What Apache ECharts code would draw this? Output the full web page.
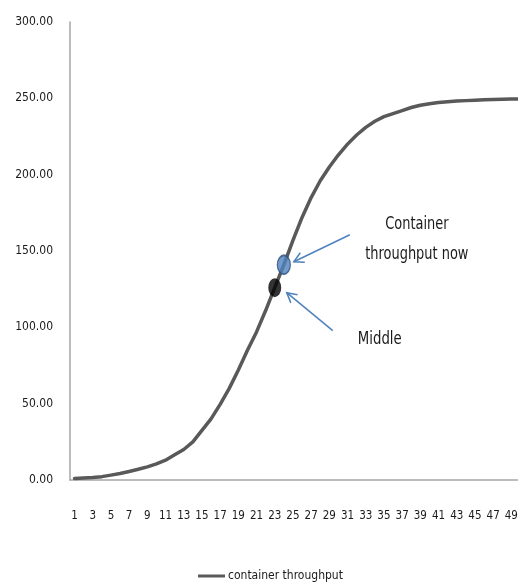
<!DOCTYPE html>
<html>
<head>
<meta charset="utf-8">
<script src="https://cdn.jsdelivr.net/npm/echarts@6/dist/echarts.min.js"></script>
<style>
  html, body { margin: 0; padding: 0; background: #ffffff; }
  #chart { width: 518px; height: 582px; }
</style>
</head>
<body>
<div id="chart"></div>
<script>
// Period labels along the x axis
const categories = [
  '1','2','3','4','5','6','7','8','9','10',
  '11','12','13','14','15','16','17','18','19','20',
  '21','22','23','24','25','26','27','28','29','30',
  '31','32','33','34','35','36','37','38','39','40',
  '41','42','43','44','45','46','47','48','49','50'
];

// Container throughput per period (S-shaped growth towards saturation)
const throughput = [
  1.0, 1.3, 1.6, 2.2, 3.2, 4.3, 5.6, 7.0, 8.6, 10.6,
  13.0, 16.5, 20.0, 25.0, 32.5, 40.0, 49.5, 60.0, 72.0, 85.0,
  97.0, 111.0, 126.0, 141.0, 157.0, 172.0, 185.0, 196.0, 205.0, 213.0,
  220.0, 226.0, 231.0, 235.0, 238.0, 240.0, 242.0, 244.0, 245.5, 246.5,
  247.3, 247.8, 248.2, 248.5, 248.8, 249.0, 249.2, 249.4, 249.5, 249.6
];

const seriesName = 'container throughput';
const middleIndex = 22;   // period 23: midpoint of the curve
const nowIndex = 23;      // period 24: current throughput
const middleLabel = 'Middle';
const nowLabel = 'Container\nthroughput now';

const FONT = "'Liberation Sans Narrow', 'DejaVu Sans Condensed', 'Liberation Sans', sans-serif";
const ARROW_COLOR = '#4f81bd';
const TEXT_COLOR = '#1a1a1a';

const chart = echarts.init(document.getElementById('chart'), null, { renderer: 'canvas' });

chart.setOption({
  animation: false,
  backgroundColor: '#ffffff',
  // the plot runs a little past the right edge of the canvas
  grid: { left: 70, top: 22, right: -7, bottom: 102, containLabel: false, outerBoundsMode: 'none' },
  legend: {
    data: [{ name: seriesName, icon: 'rect' }],
    left: 198,
    top: 570,
    padding: 0,
    itemWidth: 27,
    itemHeight: 3,
    textStyle: { fontFamily: FONT, fontSize: 12, color: TEXT_COLOR, padding: [0, 0, 0, -2] }
  },
  xAxis: {
    type: 'category',
    data: categories,
    boundaryGap: true,
    axisLine: { show: true, lineStyle: { color: '#a6a6a6', width: 1.5 } },
    axisTick: { show: false },
    splitLine: { show: false },
    axisLabel: {
      interval: 1,
      margin: 30,
      fontFamily: FONT,
      fontSize: 11.5,
      color: TEXT_COLOR
    }
  },
  yAxis: {
    type: 'value',
    min: 0,
    max: 300,
    interval: 50,
    axisLine: { show: true, lineStyle: { color: '#a6a6a6', width: 1.5 } },
    axisTick: { show: false },
    splitLine: { show: false },
    axisLabel: {
      margin: 17,
      fontFamily: FONT,
      fontSize: 12,
      color: TEXT_COLOR,
      padding: [3, 0, 0, 0],
      formatter: v => v.toFixed(2)
    }
  },
  series: [
    {
      name: seriesName,
      type: 'line',
      data: throughput,
      showSymbol: false,
      symbol: 'none',
      smooth: false,
      lineStyle: { color: '#595959', width: 3.5, cap: 'round', join: 'round' },
      itemStyle: { color: '#595959' },
      z: 2
    },
    {
      name: middleLabel,
      type: 'scatter',
      data: [[middleIndex, throughput[middleIndex]]],
      symbol: 'circle',
      symbolSize: [13, 19],
      itemStyle: { color: '#000000' },
      z: 3
    },
    {
      name: 'now',
      type: 'scatter',
      data: [[nowIndex, throughput[nowIndex]]],
      symbol: 'circle',
      symbolSize: [13, 19],
      itemStyle: { color: '#4f81bd', borderColor: '#2f527c', borderWidth: 1.5 },
      z: 4
    }
  ]
});

// Open-headed arrow from tail to tip
function arrow(tail, tip) {
  const dx = tip[0] - tail[0], dy = tip[1] - tail[1];
  const ang = Math.atan2(dy, dx);
  const len = 11, spread = 0.5;
  const wing = s => [tip[0] - len * Math.cos(ang + s), tip[1] - len * Math.sin(ang + s)];
  const style = { stroke: ARROW_COLOR, lineWidth: 1.5, fill: null };
  return {
    type: 'group',
    children: [
      { type: 'line', shape: { x1: tail[0], y1: tail[1], x2: tip[0], y2: tip[1] }, style },
      { type: 'polyline', shape: { points: [wing(spread), tip, wing(-spread)] }, style }
    ]
  };
}

const pNow = chart.convertToPixel({ xAxisIndex: 0, yAxisIndex: 0 }, [nowIndex, throughput[nowIndex]]);
const pMid = chart.convertToPixel({ xAxisIndex: 0, yAxisIndex: 0 }, [middleIndex, throughput[middleIndex]]);

chart.setOption({
  graphic: [
    arrow([pNow[0] + 66, pNow[1] - 30], [pNow[0] + 10, pNow[1] - 3]),
    arrow([pMid[0] + 58, pMid[1] + 43], [pMid[0] + 12, pMid[1] + 5]),
    {
      type: 'text',
      x: pNow[0] + 133,
      y: pNow[1] - 55,
      scaleX: 0.8,
      style: {
        text: nowLabel,
        fontFamily: FONT,
        fontSize: 18,
        lineHeight: 30,
        fill: TEXT_COLOR,
        align: 'center',
        verticalAlign: 'top'
      }
    },
    {
      type: 'text',
      x: pMid[0] + 105,
      y: pMid[1] + 52,
      scaleX: 0.82,
      style: {
        text: middleLabel,
        fontFamily: FONT,
        fontSize: 18,
        fill: TEXT_COLOR,
        align: 'center',
        verticalAlign: 'middle'
      }
    }
  ]
});
</script>
</body>
</html>
